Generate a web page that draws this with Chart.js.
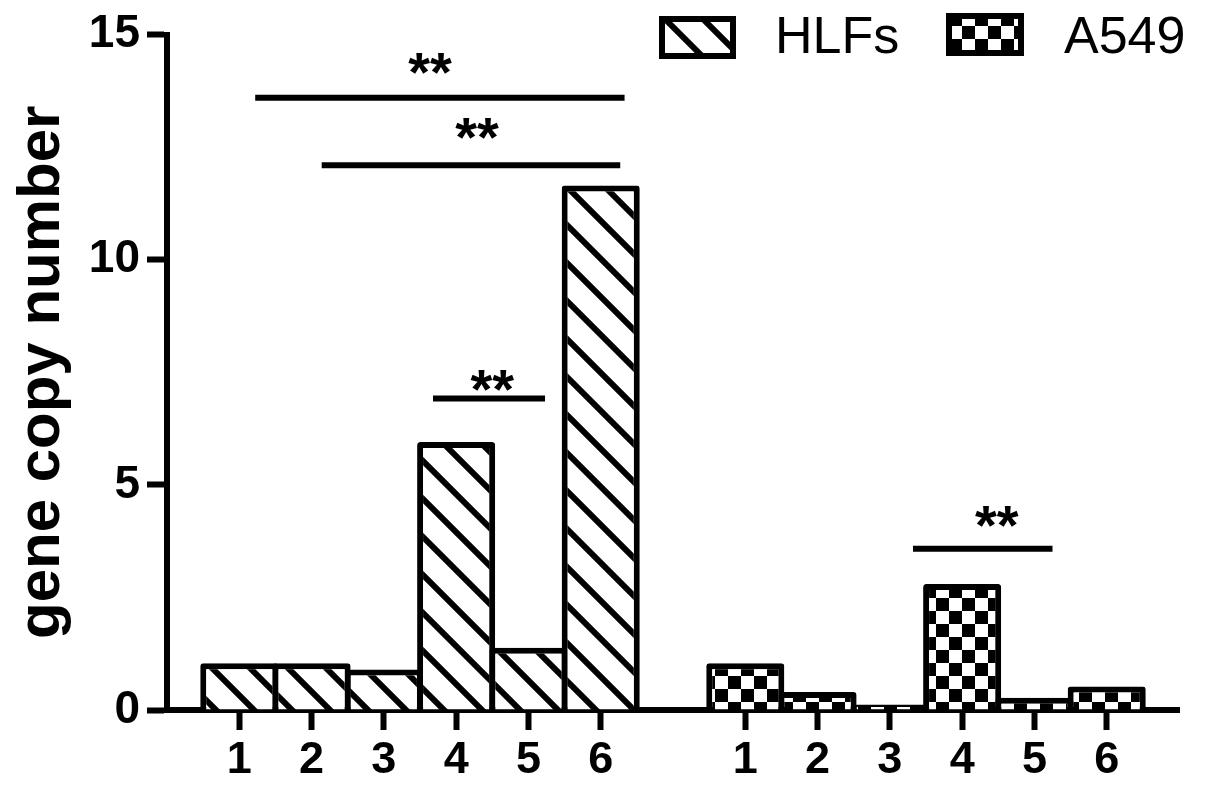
<!DOCTYPE html>
<html>
<head>
<meta charset="utf-8">
<style>
  body { margin: 0; background: #fff; }
  #wrap { width: 1205px; height: 790px; position: relative; }
</style>
<script src="https://cdn.jsdelivr.net/npm/chart.js@4"></script>
</head>
<body>
<div id="wrap"><canvas id="copyChart"></canvas></div>
<script>
// Values
const groupNames = ['HLFs', 'A549'];
const sampleLabels = ['1', '2', '3', '4', '5', '6'];
const hlfsValues = [1.04, 1.04, 0.9, 5.95, 1.38, 11.65];
const a549Values = [1.04, 0.4, 0.12, 2.8, 0.27, 0.52];
const yTicks = [0, 5, 10, 15];

// significance bars: x in category-index units, y in data units
const sigLines = [
  { from: 1.22, to: 6.33, y: 13.6, starX: 3.64, starY: 14.45 },
  { from: 2.14, to: 6.27, y: 12.1, starX: 4.29, starY: 13.02 },
  { from: 3.68, to: 5.23, y: 6.92, starX: 4.5, starY: 7.42 },
  { from: 10.32, to: 12.25, y: 3.58, starX: 11.48, starY: 4.4 }
];

const FONT = "'Liberation Sans', Arial, Helvetica, sans-serif";

// x categories: gap slot, group 1, gap slot, group 2, trailing slot
const xLabels = [''].concat(sampleLabels, [''], sampleLabels, ['']);
const blank = sampleLabels.map(() => null);
const hlfsData = [null].concat(hlfsValues, [null], blank, [null]);
const a549Data = [null].concat(blank, [null], a549Values, [null]);

function hatchPattern() {
  const s = 38;
  const c = document.createElement('canvas');
  c.width = s; c.height = s;
  const g = c.getContext('2d');
  g.fillStyle = '#fff';
  g.fillRect(0, 0, s, s);
  g.strokeStyle = '#000';
  g.lineWidth = 6;
  g.beginPath();
  [-s, 0, s].forEach(off => {
    g.moveTo(-3, off - 3);
    g.lineTo(s + 3, s + off + 3);
  });
  g.stroke();
  return g.createPattern(c, 'repeat');
}

function checkerPattern() {
  const s = 13;
  const c = document.createElement('canvas');
  c.width = s * 2; c.height = s * 2;
  const g = c.getContext('2d');
  g.fillStyle = '#fff';
  g.fillRect(0, 0, s * 2, s * 2);
  g.fillStyle = '#000';
  g.fillRect(0, 0, s, s);
  g.fillRect(s, s, s, s);
  return g.createPattern(c, 'repeat');
}

const hatch = hatchPattern();
const checker = checkerPattern();

// lines + "**" labels
const sigPlugin = {
  id: 'sigPlugin',
  afterDatasetsDraw(chart) {
    const ctx = chart.ctx;
    const x = chart.scales.x, y = chart.scales.y;
    const size = 56;
    ctx.save();
    ctx.strokeStyle = '#000';
    ctx.lineWidth = 6;
    ctx.fillStyle = '#000';
    ctx.font = 'bold ' + size + 'px ' + FONT;
    ctx.textAlign = 'center';
    ctx.textBaseline = 'alphabetic';
    sigLines.forEach(s => {
      const py = y.getPixelForValue(s.y);
      ctx.beginPath();
      ctx.moveTo(x.getPixelForValue(s.from), py);
      ctx.lineTo(x.getPixelForValue(s.to), py);
      ctx.stroke();
      ctx.fillText('**', x.getPixelForValue(s.starX), y.getPixelForValue(s.starY) + size * 0.57);
    });
    ctx.restore();
  }
};

// legend at top right
const legendPlugin = {
  id: 'boxLegend',
  afterDraw(chart) {
    const ctx = chart.ctx;
    const boxes = [
      { x: 659, y: 16, w: 77, h: 43, tx: 775 },
      { x: 946, y: 13, w: 78, h: 43, tx: 1064 }
    ];
    ctx.save();
    chart.data.datasets.forEach((ds, i) => {
      const b = boxes[i];
      ctx.fillStyle = ds.backgroundColor;
      ctx.fillRect(b.x, b.y, b.w, b.h);
      ctx.strokeStyle = '#000';
      ctx.lineWidth = 6;
      ctx.strokeRect(b.x + 3, b.y + 3, b.w - 6, b.h - 6);
      ctx.fillStyle = '#000';
      ctx.font = '52px ' + FONT;
      ctx.textBaseline = 'alphabetic';
      ctx.textAlign = 'left';
      ctx.fillText(ds.label, b.tx, 53);
    });
    ctx.restore();
  }
};

const barStyle = {
  borderColor: '#000',
  borderWidth: 6,
  borderSkipped: 'start',
  borderRadius: 3,
  grouped: false,
  categoryPercentage: 1,
  barPercentage: 1.08
};

new Chart(document.getElementById('copyChart'), {
  type: 'bar',
  data: {
    labels: xLabels,
    datasets: [
      Object.assign({ label: groupNames[0], data: hlfsData, backgroundColor: hatch }, barStyle),
      Object.assign({ label: groupNames[1], data: a549Data, backgroundColor: checker }, barStyle)
    ]
  },
  options: {
    responsive: true,
    maintainAspectRatio: false,
    animation: false,
    layout: { padding: { top: 32, right: 26, left: 0, bottom: 0 } },
    plugins: {
      legend: { display: false },
      tooltip: { enabled: false }
    },
    scales: {
      x: {
        type: 'category',
        offset: false,
        grid: {
          offset: false,
          drawOnChartArea: false,
          tickLength: 20,
          tickWidth: 6,
          tickColor: ctx => (ctx.tick && ctx.tick.label) ? '#000' : 'rgba(0,0,0,0)'
        },
        border: { color: '#000', width: 6 },
        ticks: {
          autoSkip: false,
          maxRotation: 0,
          padding: 4,
          color: '#000',
          font: { family: FONT, size: 45, weight: 'bold' }
        },
        afterFit(scale) { scale.height = 80; }
      },
      y: {
        min: 0,
        max: 15,
        afterBuildTicks(scale) { scale.ticks = yTicks.map(v => ({ value: v })); },
        grid: {
          drawOnChartArea: false,
          tickLength: 20,
          tickWidth: 6,
          color: '#000'
        },
        border: { color: '#000', width: 6 },
        ticks: {
          padding: 7,
          color: '#000',
          font: { family: FONT, size: 46, weight: 'bold' }
        },
        title: {
          display: true,
          text: 'gene copy number',
          color: '#000',
          font: { family: FONT, size: 60, weight: 'bold' },
          padding: { top: 6, bottom: 0 }
        },
        afterFit(scale) { scale.width = 167; }
      }
    }
  },
  plugins: [sigPlugin, legendPlugin]
});
</script>
</body>
</html>
